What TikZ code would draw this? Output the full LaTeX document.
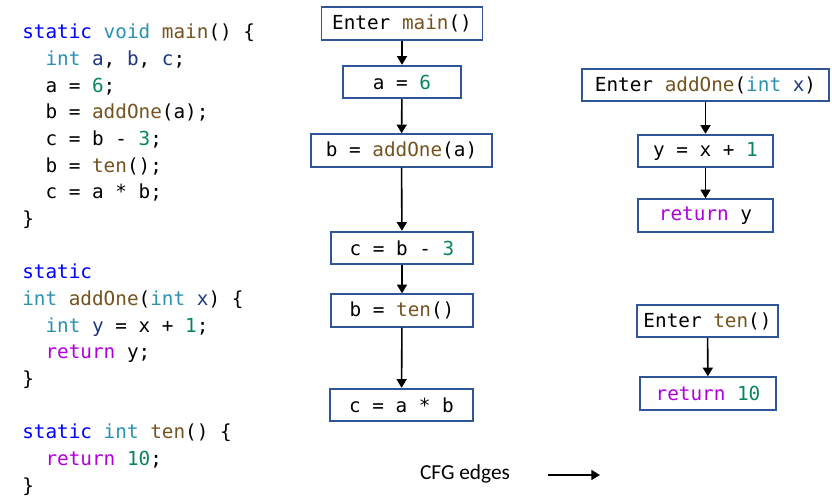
\documentclass[tikz,border=0pt]{standalone}
\usepackage{fontspec}
\setmonofont{DejaVu Sans Mono}
\newfontfamily\legendfont{Carlito}
\usetikzlibrary{arrows.meta}
\definecolor{kwblue}{RGB}{0,0,255}
\definecolor{typeteal}{RGB}{43,145,175}
\definecolor{fnbrown}{RGB}{116,83,31}
\definecolor{numgreen}{RGB}{9,134,88}
\definecolor{varnavy}{RGB}{31,55,127}
\definecolor{retpurple}{RGB}{175,0,219}
\definecolor{boxblue}{RGB}{47,85,151}
\newcommand\ckw[1]{\textcolor{kwblue}{#1}}
\newcommand\cty[1]{\textcolor{typeteal}{#1}}
\newcommand\cfn[1]{\textcolor{fnbrown}{#1}}
\newcommand\cnum[1]{\textcolor{numgreen}{#1}}
\newcommand\cvar[1]{\textcolor{varnavy}{#1}}
\newcommand\cret[1]{\textcolor{retpurple}{#1}}
\newcommand\ind{\hphantom{xx}}
\tikzset{
  code/.style={font=\ttfamily\fontsize{14.5}{20}\selectfont, align=left, inner sep=0pt},
  cfgbox/.style={draw=boxblue, line width=1.3pt, minimum height=24.5pt, inner sep=2pt,
    font=\ttfamily\fontsize{14.5}{17}\selectfont},
  legend/.style={font=\legendfont\fontsize{16}{18}\selectfont, inner sep=0pt}
}
\begin{document}
\begin{tikzpicture}[x=0.75pt, y=-0.75pt, >={Triangle[length=6.5pt,width=7.5pt]},
    every edge/.append style={line width=1.2pt}]
	\useasboundingbox (0,0) rectangle (832,500);
	% source code
	\node[code, anchor=north west] (src) at (22,24) {%
		\ckw{static} \cty{void} \cfn{main}() \{\\
		\ind\cty{int} \cvar{a}, \cvar{b}, \cvar{c};\\
		\ind a = \cnum{6};\\
		\ind b = \cfn{addOne}(a);\\
		\ind c = b - \cnum{3};\\
		\ind b = \cfn{ten}();\\
		\ind c = a * b;\\
		\}\\[20pt]
		\ckw{static}\\
		\cty{int} \cfn{addOne}(\cty{int} \cvar{x}) \{\\
		\ind\cty{int} \cvar{y} = x + \cnum{1};\\
		\ind\cret{return} y;\\
		\}\\[20pt]
		\ckw{static} \cty{int} \cfn{ten}() \{\\
		\ind\cret{return} \cnum{10};\\
		\}};
	% CFG of main
	\node[cfgbox, minimum width=120.75pt] (entermain) at (402,23.5) {Enter \cfn{main}()};
	\node[cfgbox, minimum width=88.5pt] (a6) at (402,82) {a = \cnum{6}}
		edge[<-] (entermain);
	\node[cfgbox, minimum width=135.75pt] (baddone) at (401.5,150.5) {b = \cfn{addOne}(a)}
		edge[<-] (a6);
	\node[cfgbox, minimum width=106.5pt] (cb3) at (402,248) {c = b - \cnum{3}}
		edge[<-] (baddone);
	\node[cfgbox, minimum width=106.5pt] (bten) at (402,310.5) {b = \cfn{ten}()}
		edge[<-] (cb3);
	\node[cfgbox, minimum width=107pt] (cab) at (401.5,405) {c = a * b}
		edge[<-] (bten);
	% CFG of addOne
	\node[cfgbox, minimum width=185pt] (enteradd) at (705.5,85) {Enter \cfn{addOne}(\cty{int} \cvar{x})};
	\node[cfgbox, minimum width=101pt] (yx1) at (705.5,151) {y = x + \cnum{1}}
		edge[<-] (enteradd);
	\node[cfgbox, minimum width=101pt] (rety) at (705.5,215.5) {\cret{return} y}
		edge[<-] (yx1);
	% CFG of ten
	\node[cfgbox, minimum width=105.75pt] (enterten) at (707.5,321) {Enter \cfn{ten}()};
	\node[cfgbox, minimum width=102pt] (ret10) at (708,393.5) {\cret{return} \cnum{10}}
		edge[<-] (enterten);
	% legend
	\node[legend] (cfglabel) at (465,474) {CFG edges};
	\coordinate (legtail) at (548,475);
	\coordinate (leghead) at (600,475);
	\draw[->, line width=1.2pt] (legtail) -- (leghead);
\end{tikzpicture}
\end{document}
